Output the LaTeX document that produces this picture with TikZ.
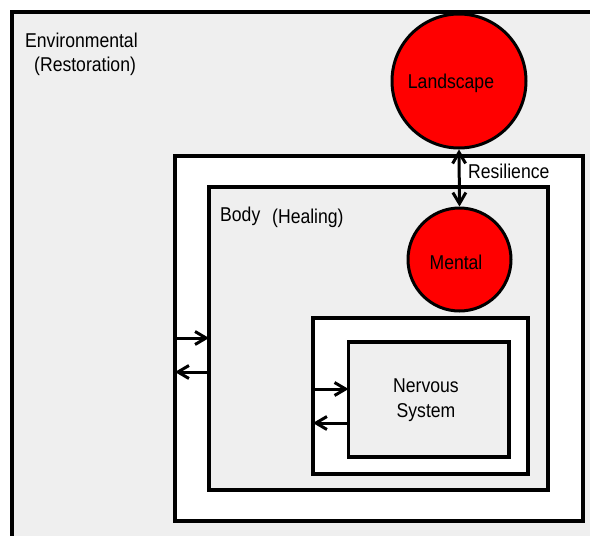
\documentclass[tikz,border=0pt]{standalone}
\usepackage{fontspec}
\setmainfont{Liberation Sans}[FakeStretch=0.88]
\usetikzlibrary{arrows.meta}
\definecolor{bggray}{HTML}{EFEFEF}
\definecolor{circred}{HTML}{FF0000}
\tikzset{
  frame/.style={draw=black, line width=3.5pt},
  graybox/.style={frame, fill=bggray},
  whitebox/.style={frame, fill=white},
  bubble/.style={circle, draw=black, line width=3pt, fill=circred, inner sep=0pt},
  lbl/.style={inner sep=0pt, font=\fontsize{20}{24}\selectfont},
  flow/.style={line width=3pt, -{Straight Barb[length=11pt,width=13pt,line width=3pt]}},
  dflow/.style={line width=3pt, {Straight Barb[length=11pt,width=13pt,line width=3pt]}-{Straight Barb[length=11pt,width=13pt,line width=3pt]}}
}
\begin{document}
\begin{tikzpicture}[x=1pt,y=-1pt]
\useasboundingbox (0,0) rectangle (590,536);
\fill[white] (0,0) rectangle (590,536);
\begin{scope}
\clip (0,0) rectangle (590,536);
\draw[graybox] (12,12) rectangle (620,570);
\end{scope}
\draw[whitebox] (175,156) rectangle (583,521);
\draw[graybox] (209,187) rectangle (548,490);
\draw[whitebox] (313,318) rectangle (528,474);
\draw[graybox] (348.5,342) rectangle (509,457);

\node[lbl, anchor=west] (env) at (25,40) {Environmental};
\node[lbl, anchor=west] (rest) at (34,66) {(Restoration)};
\node[lbl, anchor=west] (body) at (220,216) {Body};
\node[lbl, anchor=west] (heal) at (272,218) {(Healing)};
\node[lbl, align=center, font=\fontsize{20}{25}\selectfont] (ns) at (426,400) {Nervous\\System};

\node[bubble, minimum size=134pt] (land) at (459,81) {};
\node[lbl] at (451,83) {Landscape};
\node[bubble, minimum size=103pt] (mental) at (459.5,259.5) {};
\node[lbl] at (456,262) {Mental};

\draw[dflow] (land.south) -- (mental.north);
\node[lbl, anchor=west] (res) at (468,171) {Resilience};

\coordinate (a1s) at (175,338); \coordinate (a1e) at (209,338);
\coordinate (a2s) at (209,372); \coordinate (a2e) at (175,372);
\coordinate (b1s) at (313,389); \coordinate (b1e) at (348.5,389);
\coordinate (b2s) at (348.5,423); \coordinate (b2e) at (313,423);
\draw[flow] (a1s) -- (a1e);
\draw[flow] (a2s) -- (a2e);
\draw[flow] (b1s) -- (b1e);
\draw[flow] (b2s) -- (b2e);
\end{tikzpicture}
\end{document}
